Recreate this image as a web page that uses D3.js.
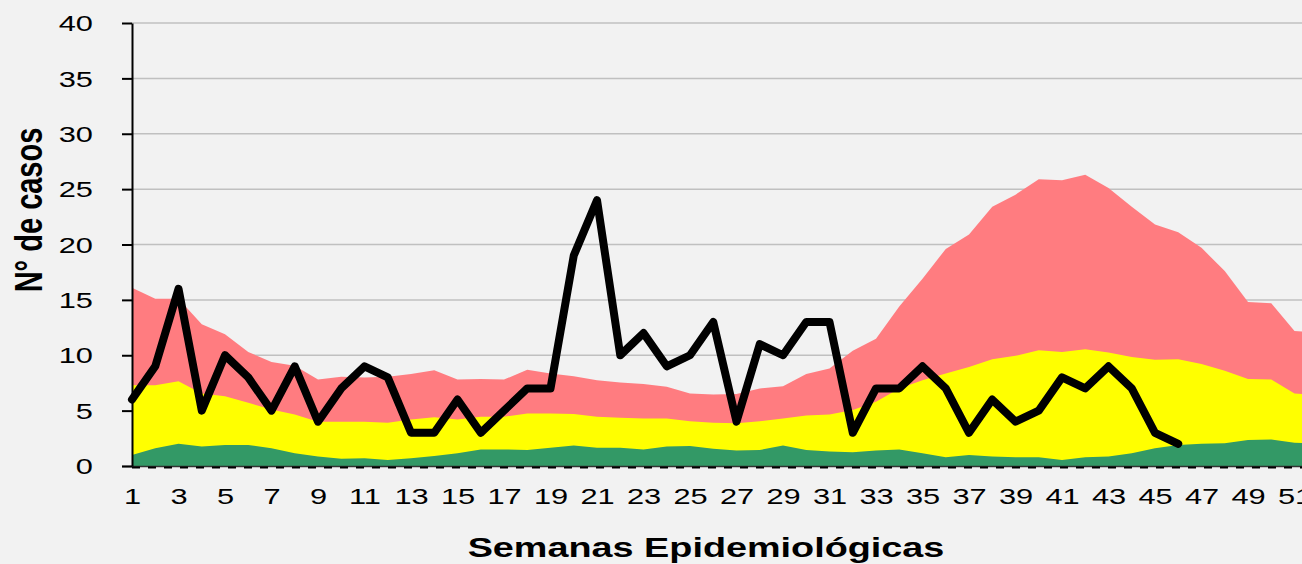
<!DOCTYPE html>
<html>
  <head>
    <meta charset="utf-8">
    <title>Canal endémico</title>
    <script src="https://d3js.org/d3.v7.min.js"></script>
    <style>
      body { margin: 0; background: #f2f2f2; }
      svg { display: block; font-family: "Liberation Sans", Arial, sans-serif; }
    </style>
  </head>
  <body>
    <svg id="chart" width="1302" height="564"></svg>
    <script>
      // weekly data
      weeks = d3.range(1, 53);
      greenTop = [1.0, 1.6, 2.0, 1.75, 1.9, 1.9, 1.6, 1.15, 0.85, 0.65, 0.7, 0.55, 0.7, 0.9, 1.15, 1.5,
        1.5, 1.45, 1.65, 1.85, 1.65, 1.65, 1.5, 1.75, 1.8, 1.55, 1.4, 1.45, 1.85, 1.45, 1.3, 1.25, 1.4,
        1.5, 1.15, 0.8, 1.0, 0.85, 0.8, 0.8, 0.55, 0.8, 0.85, 1.15, 1.6, 1.9, 2.0, 2.05, 2.35, 2.4, 2.1, 2.0];
      yellowTop = [7.3, 7.3, 7.65, 6.55, 6.3, 5.7, 5.1, 4.65, 4.0, 4.0, 4.0, 3.9, 4.2, 4.4, 4.2, 4.45,
        4.45, 4.75, 4.75, 4.7, 4.45, 4.35, 4.3, 4.3, 4.05, 3.9, 3.85, 4.05, 4.3, 4.55, 4.65, 5.05, 5.8,
        7.0, 7.75, 8.35, 8.95, 9.65, 9.95, 10.45, 10.3, 10.55, 10.25, 9.85, 9.6, 9.65, 9.2, 8.6, 7.85, 7.8, 6.55, 6.4];
      redTop = [16.1, 15.1, 15.1, 12.8, 11.9, 10.3, 9.4, 9.05, 7.8, 8.05, 8.0, 8.05, 8.3, 8.65, 7.8, 7.85,
        7.8, 8.7, 8.35, 8.1, 7.75, 7.55, 7.4, 7.15, 6.55, 6.45, 6.5, 7.0, 7.2, 8.3, 8.8, 10.4, 11.5,
        14.4, 16.9, 19.6, 20.9, 23.4, 24.5, 25.9, 25.8, 26.3, 25.1, 23.4, 21.8, 21.1, 19.7, 17.6, 14.8, 14.7, 12.2, 12.0];
      cases = [6, 9, 16, 5, 10, 8, 5, 9, 4, 7, 9, 8, 3, 3, 6, 3, 5, 7, 7, 19,
        24, 10, 12, 9, 10, 13, 4, 11, 10, 13, 13, 3, 7, 7, 9, 7, 3, 6, 4, 5,
        8, 7, 9, 7, 3, 2];
      yTicks = [0, 5, 10, 15, 20, 25, 30, 35, 40];
      xTicks = d3.range(1, 53, 2);

      // text in the original is stretched sideways
      stretch = 1.35;
      tickStretch = 1.4;

      svg = d3.select("#chart");
      x = d3.scaleLinear().domain([1, 52]).range([132, 132 + 51 * 23.25]);
      y = d3.scaleLinear().domain([0, 40]).range([466, 23]);

      // gridlines
      svg.append("g")
        .selectAll("line")
          .data(yTicks.slice(1))
        .enter().append("line")
          .attr("x1", x(1))
          .attr("x2", 1302)
          .attr("y1", function(d) { return y(d); })
          .attr("y2", function(d) { return y(d); })
          .style("stroke", "#c0c0c0")
          .style("stroke-width", 1.5);

      // stacked bands
      zeros = weeks.map(function() { return 0; });
      bands = [
        { lo: greenTop, hi: redTop, fill: "#ff7c80" },
        { lo: zeros, hi: yellowTop, fill: "#ffff00" },
        { lo: zeros, hi: greenTop, fill: "#339966" }
      ];
      svg.append("g")
        .selectAll("path")
          .data(bands)
        .enter().append("path")
          .attr("d", function(b) {
            return d3.area()
              .x(function(d, i) { return x(weeks[i]); })
              .y0(function(d, i) { return y(b.lo[i]); })
              .y1(function(d, i) { return y(d); })(b.hi);
          })
          .style("fill", function(b) { return b.fill; });

      // x axis baseline (solid plus dashes)
      svg.append("line")
        .attr("x1", 122).attr("x2", 1302)
        .attr("y1", 466.5).attr("y2", 466.5)
        .style("stroke", "#333")
        .style("stroke-width", 1.5);
      svg.append("line")
        .attr("x1", 132).attr("x2", 1302)
        .attr("y1", 467.5).attr("y2", 467.5)
        .style("stroke", "#000")
        .style("stroke-width", 2)
        .style("stroke-dasharray", "8,8");

      // y axis
      yAxis = svg.append("g")
        .attr("transform", "translate(132, 0)")
        .call(d3.axisLeft(y).tickValues(yTicks).tickSize(10).tickSizeOuter(0));
      yAxis.select(".domain").style("stroke", "#000").style("stroke-width", 2);
      yAxis.selectAll(".tick line").style("stroke", "#000").style("stroke-width", 2);
      yAxis.selectAll(".tick text")
        .attr("x", 0)
        .attr("dy", "0.35em")
        .attr("transform", "translate(-39, 0) scale(" + tickStretch + ", 1)")
        .style("font-size", "22px")
        .style("font-family", "Liberation Sans, Arial, sans-serif")
        .style("fill", "#000");

      // x axis labels
      xAxis = svg.append("g")
        .attr("transform", "translate(0, 466)")
        .call(d3.axisBottom(x).tickValues(xTicks).tickSize(0));
      xAxis.select(".domain").remove();
      xAxis.selectAll(".tick text")
        .attr("y", 0)
        .attr("dy", 0)
        .attr("transform", "translate(0, 38) scale(" + tickStretch + ", 1)")
        .style("font-size", "22px")
        .style("font-family", "Liberation Sans, Arial, sans-serif")
        .style("fill", "#000");

      // cases line
      svg.append("path")
        .datum(cases)
        .attr("d", d3.line()
          .x(function(d, i) { return x(weeks[i]); })
          .y(function(d) { return y(d); }))
        .style("fill", "none")
        .style("stroke", "#000")
        .style("stroke-width", 8)
        .style("stroke-linejoin", "round")
        .style("stroke-linecap", "round");

      // axis titles
      svg.append("text")
        .attr("transform", "translate(706, 557) scale(" + stretch + ", 1)")
        .attr("text-anchor", "middle")
        .style("font-size", "28px")
        .style("font-weight", "bold")
        .text("Semanas Epidemiológicas");
      svg.append("text")
        .attr("transform", "translate(42, 210) scale(" + stretch + ", 1) rotate(-90)")
        .attr("text-anchor", "middle")
        .style("font-size", "29px")
        .style("font-weight", "bold")
        .text("N° de casos");
    </script>
  </body>
</html>
